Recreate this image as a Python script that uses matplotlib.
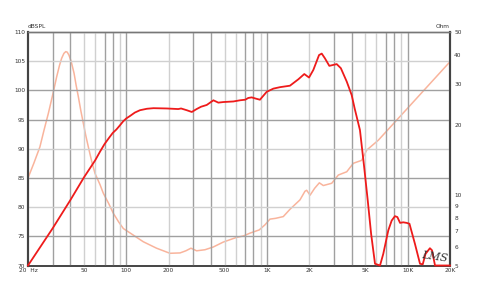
import matplotlib.pyplot as plt
import numpy as np

# SPL response (red), dB
spl_freq = [20, 30, 40, 50, 60, 65, 70, 75, 80, 85, 90, 95, 100, 106, 115, 125, 140, 156,
            194, 234, 245, 269, 292, 316, 340, 373, 416, 451, 489, 577, 643, 700, 736, 778,
            830, 891, 995, 1110, 1237, 1456, 1671, 1842, 1990, 2135, 2345, 2450, 2580,
            2774, 3130, 3350, 3690, 4000, 4200, 4580, 4900, 5200, 5500, 5860, 6360, 6710,
            7280, 7700, 8120, 8450, 8830, 9300, 9840, 10300, 11270, 12240, 12800, 13400,
            14400, 14900, 15650, 20000]
spl_db = [70, 76.4, 81.2, 85.1, 88.0, 89.5, 90.8, 91.8, 92.7, 93.3, 94.0, 94.7, 95.2,
          95.6, 96.2, 96.6, 96.85, 96.95, 96.9, 96.8, 96.9, 96.6, 96.3, 96.8, 97.2, 97.5,
          98.3, 97.9, 98.0, 98.1, 98.3, 98.4, 98.7, 98.8, 98.6, 98.4, 99.75, 100.3, 100.55,
          100.8, 101.9, 102.8, 102.2, 103.5, 106.05, 106.3, 105.5, 104.2, 104.5, 103.8,
          101.5, 99.2, 96.9, 93.2, 87.0, 81.2, 75.4, 70.3, 70.0, 72.0, 76.0, 77.7, 78.45,
          78.3, 77.3, 77.4, 77.3, 77.15, 73.7, 70.3, 70.2, 72.0, 72.96, 72.6, 70.0, 70.0]

# impedance (pink), Ohm
imp_freq = [20, 22, 24.3, 26, 27.9, 30, 32, 33.5, 34.7, 36, 37.1, 38, 39.1, 40.5, 42.5, 44,
            45.6, 47.5, 49.5, 51.5, 53.7, 57, 59.9, 65, 68.6, 75, 80.8, 88, 95.2, 106, 132,
            164, 204, 241, 265, 288, 316, 362, 415, 489, 609, 680, 757, 880, 968, 1050,
            1150, 1306, 1456, 1716, 1862, 1915, 2024, 2180, 2356, 2514, 2885, 3214, 3689,
            4111, 4400, 4710, 5117, 6185, 10000, 20000]
imp_ohm = [11.85, 13.7, 16.1, 19.0, 22.4, 27.0, 32.2, 36.0, 38.6, 40.5, 41.2, 41.0, 39.8,
           37.5, 33.3, 29.5, 26.4, 23.0, 20.3, 18.0, 16.1, 13.8, 12.4, 11.1, 10.2, 9.2,
           8.37, 7.7, 7.2, 6.9, 6.32, 5.93, 5.64, 5.66, 5.78, 5.93, 5.78, 5.84, 6.0, 6.3,
           6.6, 6.69, 6.88, 7.1, 7.47, 7.9, 7.96, 8.1, 8.7, 9.55, 10.4, 10.5, 10.0, 10.7,
           11.3, 11.0, 11.25, 12.2, 12.6, 13.7, 13.9, 14.1, 15.6, 17.2, 23.6, 37.3]

x_ticks = [20, 50, 100, 200, 500, 1000, 2000, 5000, 10000, 20000]
x_labels = ['20  Hz', '50', '100', '200', '500', '1K', '2K', '5K', '10K', '20K']
db_ticks = [70, 75, 80, 85, 90, 95, 100, 105, 110]
ohm_ticks = [5, 6, 7, 8, 9, 10, 20, 30, 40, 50]

fig = plt.figure(figsize=(4.78, 2.90), dpi=100)
ax = fig.add_axes([28 / 478, 1 - 265.5 / 290, 422 / 478, 233.5 / 290])

# vertical grid, two shades of gray
dark_mult = [1, 3, 4, 7, 8]
for dec in [10, 100, 1000, 10000]:
    for m in range(1, 10):
        f = dec * m
        if f <= 20 or f >= 20000:
            continue
        c = '#a0a0a0' if m in dark_mult else '#d0d0d0'
        ax.axvline(f, color=c, lw=1.0, zorder=1)
for d in db_ticks[1:-1]:
    c = '#d0d0d0' if d in (105, 90, 80) else '#a0a0a0'
    ax.axhline(d, color=c, lw=1.0, zorder=1)

ax.set_xscale('log')
ax.set_xlim(20, 20000)
ax.set_ylim(70, 110)
ax.set_xticks(x_ticks)
ax.set_xticklabels(x_labels)
ax.xaxis.set_minor_locator(plt.NullLocator())
ax.set_yticks(db_ticks)
ax.tick_params(axis='both', length=0, labelsize=4.2, colors='#333333', pad=2)

ax2 = ax.twinx()
ax2.set_yscale('log')
ax2.set_ylim(5, 50)
ax2.set_yticks(ohm_ticks)
ax2.set_yticklabels([str(t) for t in ohm_ticks])
ax2.yaxis.set_minor_locator(plt.NullLocator())
ax2.tick_params(axis='y', length=0, labelsize=4.2, colors='#333333', pad=3)

ax2.plot(imp_freq, imp_ohm, color='#f9b49c', lw=1.1, zorder=3)
ax.plot(spl_freq, spl_db, color='#ee1b1b', lw=1.3, zorder=4, clip_on=False)
ax.set_zorder(ax2.get_zorder() + 1)
ax.patch.set_visible(False)

for a in (ax, ax2):
    a.spines['left'].set_color('#444444')
    a.spines['left'].set_linewidth(1.5)
    a.spines['right'].set_color('#444444')
    a.spines['right'].set_linewidth(1.5)
    a.spines['bottom'].set_color('#444444')
    a.spines['bottom'].set_linewidth(1.2)
    a.spines['top'].set_color('#777777')
    a.spines['top'].set_linewidth(1.0)

fig.text(28 / 478, 1 - 27 / 290, 'dBSPL', fontsize=4.2, color='#333333', va='center')
fig.text(450 / 478, 1 - 27 / 290, 'Ohm', fontsize=4.2, color='#333333', va='center', ha='right')
fig.text(435 / 478, 1 - 257 / 290, 'LMS', fontsize=8, color='#333333', style='italic',
         ha='center', va='center', rotation=-8, fontfamily='DejaVu Serif')

fig.savefig('out.png', dpi=100)
